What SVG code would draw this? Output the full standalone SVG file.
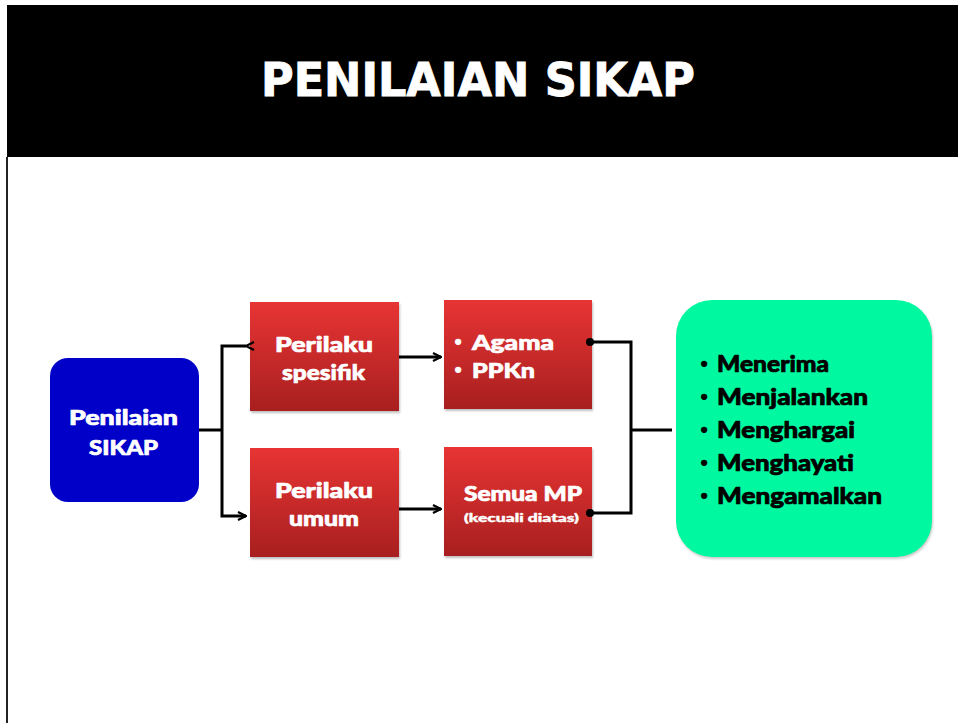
<svg xmlns="http://www.w3.org/2000/svg" width="958" height="723" viewBox="0 0 958 723">
<defs>
<linearGradient id="red" x1="0" y1="0" x2="0" y2="1">
<stop offset="0" stop-color="#e83434"/>
<stop offset="1" stop-color="#a81f1f"/>
</linearGradient>
<marker id="arr" markerWidth="10" markerHeight="10" refX="9" refY="5" orient="auto" markerUnits="userSpaceOnUse">
<path d="M1,1 L9,5 L1,9" fill="none" stroke="#000" stroke-width="2.2"/>
</marker>
<marker id="dot" markerWidth="10" markerHeight="10" refX="5" refY="5" markerUnits="userSpaceOnUse">
<circle cx="5" cy="5" r="4" fill="#000"/>
</marker>
</defs>
<style>
.t{font-family:Lato,"Open Sans","DejaVu Sans",sans-serif;font-weight:900;stroke-width:0.7;stroke-linejoin:round}
.w{fill:#fff;stroke:#fff}
.b{fill:#000;stroke:#000}
.bu{font-family:"DejaVu Sans",sans-serif;font-size:16px}
.red{fill:url(#red);filter:drop-shadow(1px 2px 1px rgba(0,0,0,0.25))}
.ln{fill:none;stroke:#000;stroke-width:3}
</style>
<rect width="958" height="723" fill="#fff"/>
<rect x="7" y="5" width="951" height="152" fill="#000"/>
<line x1="7" y1="157" x2="7" y2="723" stroke="#222" stroke-width="2"/>
<text x="478" y="96" text-anchor="middle" font-family="'DejaVu Sans Condensed','DejaVu Sans',sans-serif" font-weight="bold" font-size="46" fill="#fff" stroke="#fff" stroke-width="0.8" textLength="434" lengthAdjust="spacingAndGlyphs">PENILAIAN SIKAP</text>

<g id="n-penilaian">
<rect x="50" y="358" width="149" height="144" rx="18" fill="#0000c8"/>
<text class="t w" x="69" y="425" font-size="21" textLength="109" lengthAdjust="spacingAndGlyphs">Penilaian</text>
<text class="t w" x="89" y="455" font-size="21" textLength="69" lengthAdjust="spacingAndGlyphs">SIKAP</text>
</g>

<g id="n-spesifik">
<rect class="red" x="250" y="302" width="149" height="109"/>
<text class="t w" x="275" y="352" font-size="21" textLength="98" lengthAdjust="spacingAndGlyphs">Perilaku</text>
<text class="t w" x="282" y="380" font-size="21" textLength="83" lengthAdjust="spacingAndGlyphs">spesifik</text>
</g>

<g id="n-umum">
<rect class="red" x="250" y="448" width="149" height="109"/>
<text class="t w" x="275" y="498" font-size="21" textLength="98" lengthAdjust="spacingAndGlyphs">Perilaku</text>
<text class="t w" x="289" y="526" font-size="21" textLength="70" lengthAdjust="spacingAndGlyphs">umum</text>
</g>

<g id="n-agama">
<rect class="red" x="444" y="300" width="148" height="109"/>
<text class="t w bu" x="453" y="348">•</text>
<text class="t w" x="472" y="350" font-size="21" textLength="82" lengthAdjust="spacingAndGlyphs">Agama</text>
<text class="t w bu" x="453" y="376">•</text>
<text class="t w" x="472" y="378" font-size="21" textLength="63" lengthAdjust="spacingAndGlyphs">PPKn</text>
</g>

<g id="n-semua">
<rect class="red" x="444" y="447" width="148" height="109"/>
<text class="t w" x="464" y="501" font-size="20" textLength="118" lengthAdjust="spacingAndGlyphs">Semua MP</text>
<text class="t w" x="464" y="522" font-size="11" style="stroke-width:0.4" textLength="115" lengthAdjust="spacingAndGlyphs">(kecuali  diatas)</text>
</g>

<g id="n-hasil">
<rect x="676" y="300" width="256" height="257" rx="36" fill="#00f8a0" style="filter:drop-shadow(1px 2px 1px rgba(0,0,0,0.2))"/>
<text class="t b bu" x="699" y="370">•</text>
<text class="t b" x="717" y="372" font-size="22" textLength="112" lengthAdjust="spacingAndGlyphs">Menerima</text>
<text class="t b bu" x="699" y="403">•</text>
<text class="t b" x="717" y="405" font-size="22" textLength="151" lengthAdjust="spacingAndGlyphs">Menjalankan</text>
<text class="t b bu" x="699" y="436">•</text>
<text class="t b" x="717" y="438" font-size="22" textLength="138" lengthAdjust="spacingAndGlyphs">Menghargai</text>
<text class="t b bu" x="699" y="469">•</text>
<text class="t b" x="717" y="471" font-size="22" textLength="137" lengthAdjust="spacingAndGlyphs">Menghayati</text>
<text class="t b bu" x="699" y="502">•</text>
<text class="t b" x="717" y="504" font-size="22" textLength="165" lengthAdjust="spacingAndGlyphs">Mengamalkan</text>
</g>

<g id="connectors">
<polyline class="ln" points="199,430 222,430"/>
<polyline class="ln" points="246,346 222,346 222,516 246,516" marker-start="url(#arr)" marker-end="url(#arr)"/>
<line class="ln" x1="399" y1="357" x2="441" y2="357" marker-end="url(#arr)"/>
<line class="ln" x1="399" y1="509" x2="441" y2="509" marker-end="url(#arr)"/>
<polyline class="ln" points="590,342 631,342 631,513 590,513" marker-start="url(#dot)" marker-end="url(#dot)"/>
<line class="ln" x1="631" y1="430" x2="672" y2="430"/>
</g>
</svg>
